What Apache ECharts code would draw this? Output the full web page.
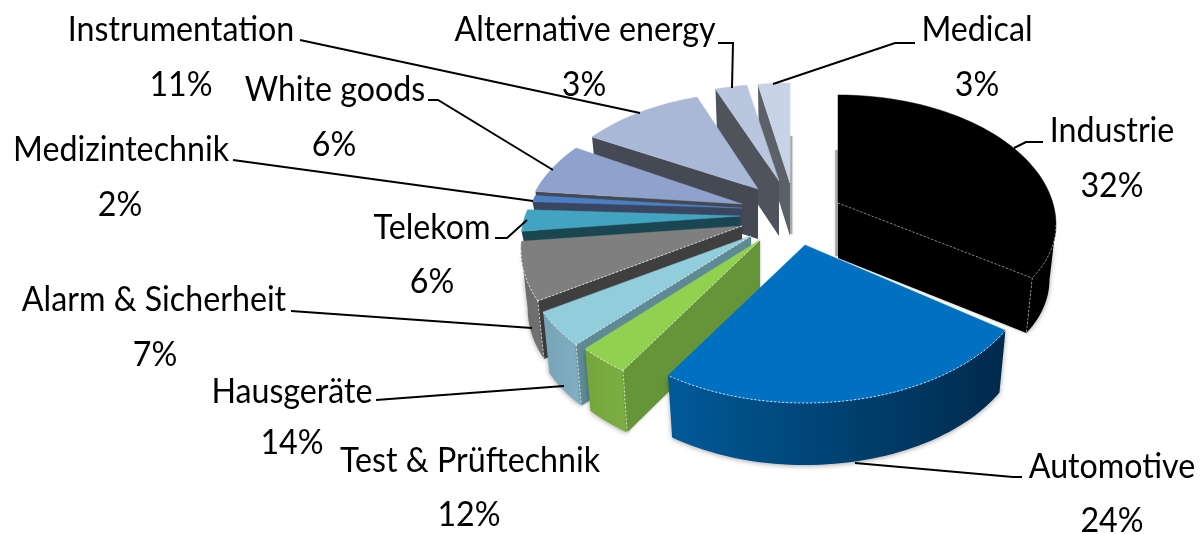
<!DOCTYPE html>
<html>
<head>
<meta charset="utf-8">
<style>html,body{margin:0;padding:0;background:#fff}#c{width:1202px;height:534px}</style>
<script src="https://cdn.jsdelivr.net/npm/echarts@6/dist/echarts.min.js"></script>
</head>
<body>
<div id="c"></div>
<script>
// ---- values ----
const categories = ['Industrie','Automotive','Test & Prüftechnik','Hausgeräte','Alarm & Sicherheit','Telekom','Medizintechnik','White goods','Instrumentation','Alternative energy','Medical'];
const percentLabels = [32,24,12,14,7,6,2,6,11,3,3];
// drawn sweep of each slice on the ellipse, in degrees (the picture's slices do not follow the printed percentages)
const drawnSweep = [117,100.5,13.5,16.5,26.5,10,3,22.8,33.8,8.2,8.2];

// ---- look ----
const pieCentre = [745,205];
const explodeX = [93,60,15,6,-3,-5,-3,-3,13,34,45];
const explodeY = [-2,40,35,31,21,11,3,-1,-16,-24,-22];
const radiusX  = [218,225,225,225,221,219,216,216,216,225,225];
const radiusTop= [130,133,133,133,125,125,125,125,125,125,125];
const radiusLow= [117,133,133,133,133,133,133,133,133,133,133];
const centreDrop=[22,25,25,25,24,24,24,24,28,28,25];
const depth    = [55,62,62,61,58,30,30,52,50,55,53];
const baseShrink = 0.97;
const topColor = ['#000000','#0070c0','#92d050','#92cddc','#7f7f7f','#42a4c0','#4a7fc4','#8fa2cc','#a9b8d6','#b9c6de','#c9d3e6'];
const sideColor= ['#000000','#003a63','#669438','#5e8a96','#3f3f3f','#1a4652','#3a4560','#45484f','#444953','#4f535c','#5c6068'];
const outerLeft= ['#000000','#005a98','#7cb043','#82b0c2','#747474','#1a4652','#2a3f63','#45484f','#444953','#4f535c','#5c6068'];
const outerRight=['#000000','#002a4c','#74a53c','#76a4b6','#6a6a6a','#1a4652','#2a3f63','#45484f','#444953','#4f535c','#5c6068'];
const paintOrder=[10,9,8,7,6,5,4,3,2,0,1];
const dashedEdges=[true,true,true,true,true,false,false,false,false,false,false];
const edgeOnWallShift={0:-1.5,10:1};

// label layout: name centre, percent centre
const labelPos = [[1112,131],[1112,467],[470,461],[292,392],[154,300],[432,228],[121,150],[335,90],[181,30],[585,30],[977,30]];
const pctPos   = [[1112,186],[1112,521],[469,515],[292,443],[155,355],[432,282],[120,205],[334,145],[181,85],[584,85],[977,85]];
const leaders = [
 [[1043,142],[1026,142],[1014,148]],
 [[1022,477],[1013,477],[855,463]],
 null,
 [[376,400],[564,386]],
 [[291,311],[532,328]],
 [[495,238],[507,238],[527,220]],
 [[233,160],[533,201]],
 [[428,100],[438,100],[553,170]],
 [[300,40],[640,113]],
 [[718,43],[733,43],[732,88]],
 [[915,43],[895,43],[773,84]]
];

const rad = d => d*Math.PI/180;
const startAngle = [];
drawnSweep.reduce((acc,v,i)=>{startAngle[i]=acc;return acc+v;},0);

function rimPoint(i,phi){
  const ax = pieCentre[0]+explodeX[i], ay = pieCentre[1]+explodeY[i];
  const c = Math.cos(rad(phi)), s = Math.sin(rad(phi));
  return [ax+radiusX[i]*s, ay+centreDrop[i]-(c>=0?radiusTop[i]:radiusLow[i])*c];
}
function rimArc(i,a,b){
  const pts=[]; const n=Math.max(2,Math.ceil((b-a)/2));
  for(let k=0;k<=n;k++) pts.push(rimPoint(i,a+(b-a)*k/n));
  return pts;
}
const poly=(points,style)=>({type:'polygon',shape:{points},style});
const line=(points,stroke)=>({type:'polyline',shape:{points},style:{fill:'none',stroke:stroke,lineWidth:1,lineDash:[2,2]}});

function renderSlice(params,api){
  const i = api.value(0);
  const a = startAngle[i], b = a+api.value(1);
  const ax = pieCentre[0]+explodeX[i], ay = pieCentre[1]+explodeY[i];
  const d = depth[i], apex=[ax,ay], children=[];
  const dash = dashedEdges[i];
  const edge = i===0 ? 'rgba(255,255,255,0.5)' : 'rgba(255,255,255,0.75)';
  const down = p => [ax+baseShrink*(p[0]-ax), p[1]+d];
  // cut face seen edge-on at the 12 o'clock line
  if(edgeOnWallShift[i]!==undefined){
    const r=rimPoint(i,i===0?a:b), sx=edgeOnWallShift[i];
    children.push({type:'line',shape:{x1:r[0]+sx,y1:r[1]+d,x2:ax+sx,y2:ay+d-2},style:{stroke:'#a9a9a9',lineWidth:2.5,shadowBlur:2,shadowColor:'#bbb'}});
  }
  // outer wall (front half of the rim only)
  const oa=Math.max(a,90), ob=Math.min(b,270);
  if(ob>oa){
    const arc=rimArc(i,oa,ob);
    children.push(poly(arc.concat(arc.map(down).reverse()),{
      fill:{type:'linear',x:0,y:0,x2:1,y2:0,colorStops:[{offset:0,color:i===1?outerLeft[i]:outerRight[i]},{offset:1,color:i===1?outerRight[i]:outerLeft[i]}]},
      shadowBlur:5,shadowColor:'rgba(0,0,0,0.35)',shadowOffsetY:1
    }));
  }
  // visible cut face
  let cut=null;
  if(a>=180) cut=a; else if(b<=180) cut=b;
  if(cut!==null){
    const r=rimPoint(i,cut);
    children.push(poly([apex,r,down(r),[ax,ay+d]],{fill:sideColor[i],shadowBlur:dash?3:0,shadowColor:'rgba(0,0,0,0.3)'}));
  }
  // top face
  children.push(poly([apex].concat(rimArc(i,a,b)),{fill:topColor[i],stroke:topColor[i],lineWidth:0.5}));
  // dashed highlights where top face meets walls
  if(dash){
    if(ob>oa) children.push(line(rimArc(i,oa,ob),edge));
    if(cut!==null){
      const r=rimPoint(i,cut);
      children.push(line([apex,r],edge));
      children.push(line([r,down(r)],edge));
    }
  }
  return {type:'group',children};
}

const graphics=[];
categories.forEach((name,i)=>{
  const font={fontFamily:'Lato, "Open Sans", sans-serif',fontSize:35,fill:'#000',textAlign:'center',textVerticalAlign:'middle'};
  graphics.push({type:'text',x:labelPos[i][0],y:labelPos[i][1],scaleX:0.92,style:Object.assign({text:name},font),z:10});
  graphics.push({type:'text',x:pctPos[i][0],y:pctPos[i][1],scaleX:0.92,style:Object.assign({text:percentLabels[i]+'%'},font),z:10});
  if(leaders[i]) graphics.push({type:'polyline',shape:{points:leaders[i]},style:{fill:'none',stroke:'#000',lineWidth:2},z:9});
});

const chart=echarts.init(document.getElementById('c'),null,{renderer:'canvas'});
chart.setOption({
  animation:false,
  backgroundColor:'#ffffff',
  series:[{
    type:'custom',
    coordinateSystem:'none',
    renderItem:renderSlice,
    silent:true,
    data:paintOrder.map(i=>[i,drawnSweep[i]])
  }],
  graphic:{elements:graphics}
});
</script>
</body>
</html>
